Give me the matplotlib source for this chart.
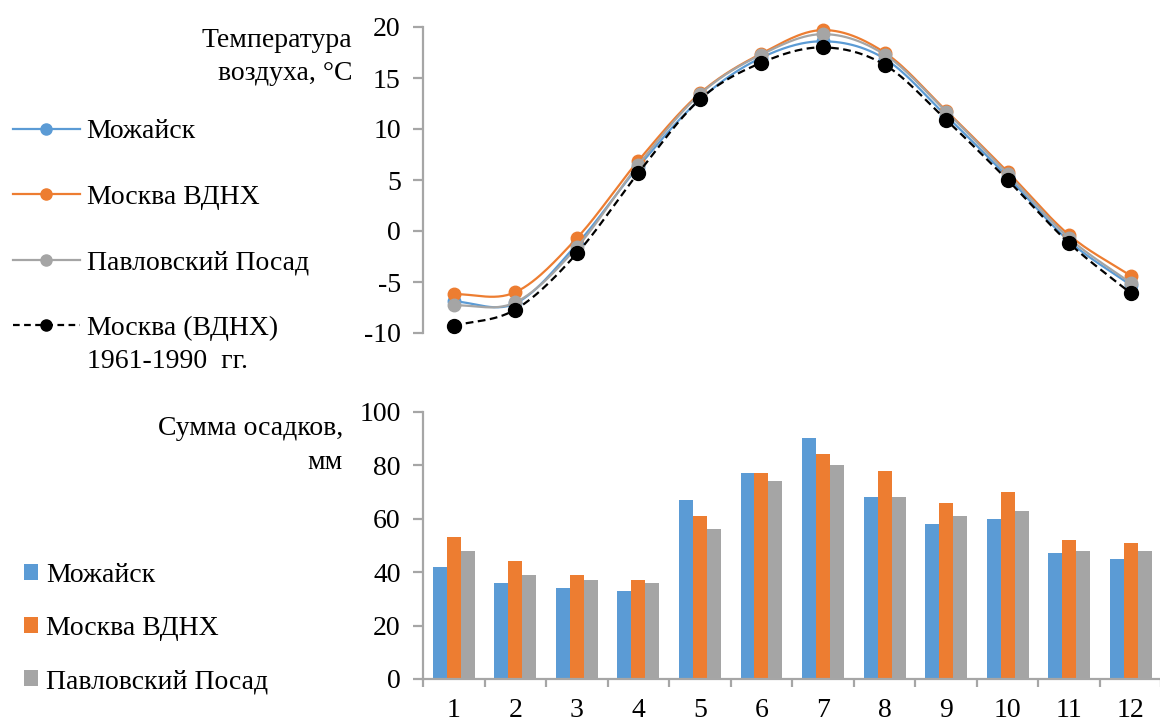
import numpy as np
import matplotlib
matplotlib.use("Agg")
import matplotlib.pyplot as plt
from matplotlib.lines import Line2D
from matplotlib.patches import Patch

months = [1, 2, 3, 4, 5, 6, 7, 8, 9, 10, 11, 12]
month_labels = ["1", "2", "3", "4", "5", "6", "7", "8", "9", "10", "11", "12"]

# Temperature, °C
t_mozhaysk = [-6.9, -7.1, -1.3, 6.3, 12.9, 17.0, 18.6, 16.9, 11.3, 5.3, -1.0, -5.3]
t_moscow = [-6.2, -6.0, -0.7, 6.9, 13.5, 17.4, 19.7, 17.5, 11.8, 5.8, -0.4, -4.4]
t_pavlovsky = [-7.3, -7.0, -1.6, 6.5, 13.4, 17.3, 19.3, 17.3, 11.7, 5.6, -0.7, -5.1]
t_moscow_norm = [-9.3, -7.7, -2.2, 5.7, 12.9, 16.5, 18.0, 16.3, 10.9, 5.0, -1.2, -6.1]

# Precipitation, mm
p_mozhaysk = [42, 36, 34, 33, 67, 77, 90, 68, 58, 60, 47, 45]
p_moscow = [53, 44, 39, 37, 61, 77, 84, 78, 66, 70, 52, 51]
p_pavlovsky = [48, 39, 37, 36, 56, 74, 80, 68, 61, 63, 48, 48]

names = ["Можайск", "Москва ВДНХ", "Павловский Посад"]
norm_name = "Москва (ВДНХ)"
norm_name2 = "1961-1990  гг."
t_title = "Температура\nвоздуха, °С"
p_title = "Сумма осадков,\nмм"

BLUE = "#5B9BD5"
ORANGE = "#ED7D31"
GRAY = "#A5A5A5"
AXC = "#A6A6A6"

plt.rcParams['font.family'] = ['Liberation Serif', 'DejaVu Serif']
plt.rcParams['axes.unicode_minus'] = False
FS = 20

W, H = 1160, 722
fig = plt.figure(figsize=(W / 100, H / 100), dpi=100)


def smooth(x, y, n=30):
    x = np.asarray(x, float)
    y = np.asarray(y, float)
    px = np.concatenate([[2 * x[0] - x[1]], x, [2 * x[-1] - x[-2]]])
    py = np.concatenate([[2 * y[0] - y[1]], y, [2 * y[-1] - y[-2]]])
    xs, ys = [], []
    t = np.linspace(0, 1, n)
    for i in range(1, len(px) - 2):
        p0, p1, p2, p3 = py[i - 1], py[i], py[i + 1], py[i + 2]
        q0, q1, q2, q3 = px[i - 1], px[i], px[i + 1], px[i + 2]
        yy = 0.5 * ((2 * p1) + (-p0 + p2) * t + (2 * p0 - 5 * p1 + 4 * p2 - p3) * t ** 2
                    + (-p0 + 3 * p1 - 3 * p2 + p3) * t ** 3)
        xx = 0.5 * ((2 * q1) + (-q0 + q2) * t + (2 * q0 - 5 * q1 + 4 * q2 - q3) * t ** 2
                    + (-q0 + 3 * q1 - 3 * q2 + q3) * t ** 3)
        xs.append(xx)
        ys.append(yy)
    return np.concatenate(xs), np.concatenate(ys)


def style_axis(ax):
    for s in ["top", "right"]:
        ax.spines[s].set_visible(False)
    ax.spines["left"].set_color(AXC)
    ax.spines["left"].set_linewidth(1.6)
    ax.spines["bottom"].set_color(AXC)
    ax.spines["bottom"].set_linewidth(1.6)
    ax.tick_params(axis="y", direction="out", length=7, width=1.6, color=AXC,
                   labelsize=FS, pad=9)
    ax.set_facecolor("none")


left = 423 / W
width = 738.5 / W

# ---------- Temperature ----------
ax1 = fig.add_axes([left, 1 - 333 / H, width, (333 - 27) / H])
style_axis(ax1)
ax1.spines["bottom"].set_visible(False)
ax1.set_xlim(0.5, 12.5)
ax1.set_ylim(-10, 20)
ax1.set_yticks([-10, -5, 0, 5, 10, 15, 20])
ax1.set_xticks([])

series = [(t_mozhaysk, BLUE, "-", 9), (t_moscow, ORANGE, "-", 9),
          (t_pavlovsky, GRAY, "-", 9), (t_moscow_norm, "black", (0, (3.5, 2)), 10)]
for vals, c, ls, ms in series:
    sx, sy = smooth(months, vals)
    ax1.plot(sx, sy, color=c, lw=1.6, ls=ls, clip_on=False)
    ax1.plot(months, vals, ls="none", marker="o", ms=ms, color=c, clip_on=False)

handles1 = [
    Line2D([], [], color=BLUE, lw=1.6, marker="o", ms=8),
    Line2D([], [], color=ORANGE, lw=1.6, marker="o", ms=8),
    Line2D([], [], color=GRAY, lw=1.6, marker="o", ms=8),
    Line2D([], [], color="black", lw=1.6, ls=(0, (3, 2)), marker="o", ms=8),
]
leg1 = fig.legend(handles1, names + [norm_name], loc="upper left",
                  bbox_to_anchor=(13 / W, 1 - 119 / H), frameon=False,
                  fontsize=FS, handlelength=2.4, handletextpad=0.25,
                  labelspacing=1.44, borderpad=0, borderaxespad=0)
fig.text(87 / W, 1 - 362 / H, norm_name2, fontsize=FS, va="center", ha="left")

fig.text(352 / W, 1 - 57 / H, t_title, fontsize=FS, ha="right", va="center",
         multialignment="right", linespacing=1.38)

# ---------- Precipitation ----------
ax2 = fig.add_axes([left, 1 - 679 / H, width, (679 - 411.7) / H])
style_axis(ax2)
ax2.set_xlim(0.5, 12.5)
ax2.set_ylim(0, 100)
ax2.set_yticks([0, 20, 40, 60, 80, 100])
bw = 0.227
x = np.array(months, float)
ax2.bar(x - bw, p_mozhaysk, bw, color=BLUE)
ax2.bar(x, p_moscow, bw, color=ORANGE)
ax2.bar(x + bw, p_pavlovsky, bw, color=GRAY)
ax2.set_xticks(np.arange(0.5, 13.0, 1.0))
ax2.set_xticklabels([])
ax2.tick_params(axis="x", which="major", direction="out", length=6, width=1.6, color=AXC)
ax2.set_xticks(x, minor=True)
ax2.set_xticklabels(month_labels, minor=True)
ax2.tick_params(axis="x", which="minor", length=0, labelsize=FS, pad=14)

handles2 = [Patch(facecolor=BLUE), Patch(facecolor=ORANGE), Patch(facecolor=GRAY)]
fig.legend(handles2, names, loc="upper left", bbox_to_anchor=(24 / W, 1 - 563 / H),
           frameon=False, fontsize=FS, handlelength=0.5, handleheight=0.5,
           handletextpad=0.3, labelspacing=1.01, borderpad=0, borderaxespad=0)

fig.text(343 / W, 1 - 445.5 / H, p_title, fontsize=FS, ha="right", va="center",
         multialignment="right", linespacing=1.46)

fig.savefig("out.png", dpi=100)
